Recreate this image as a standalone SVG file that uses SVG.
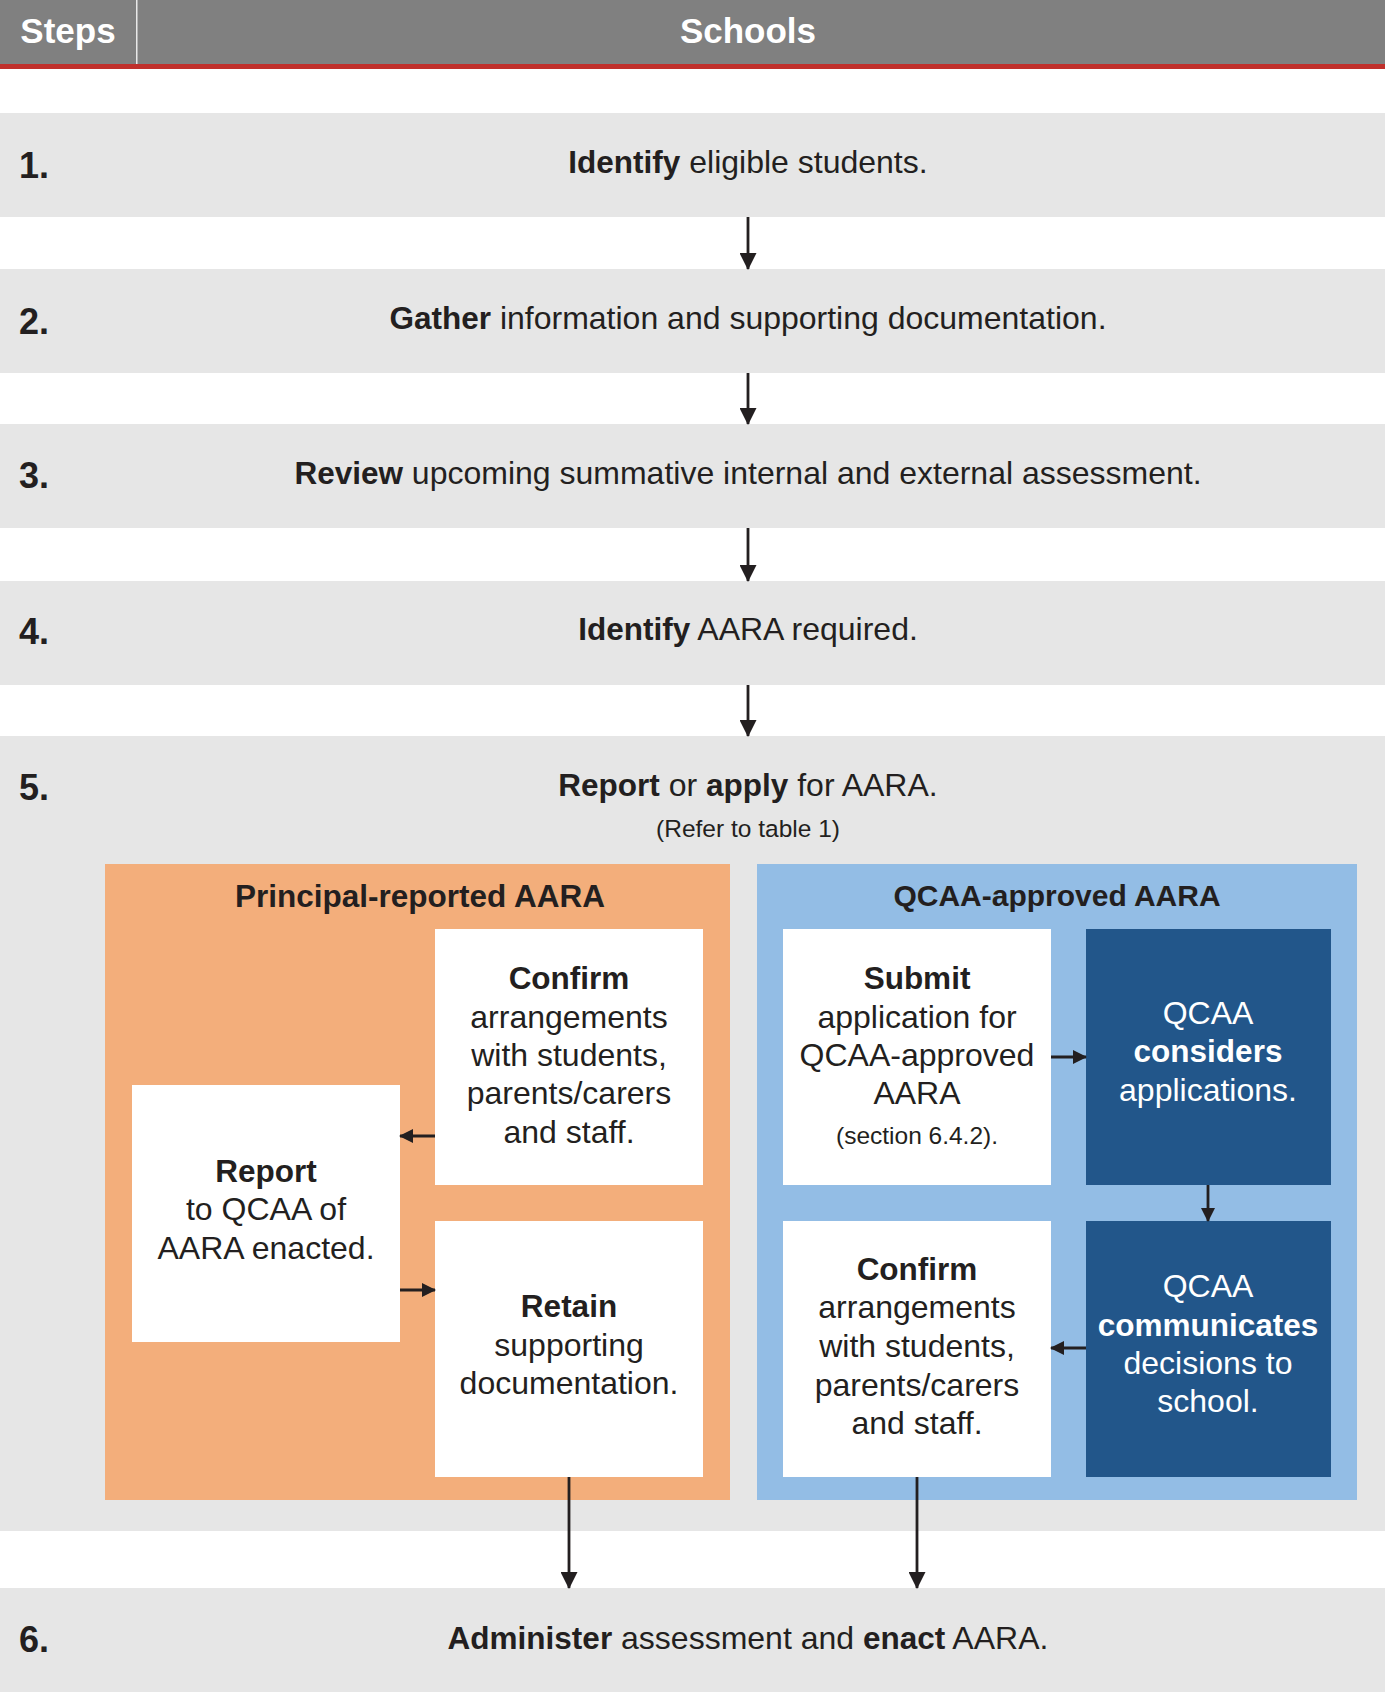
<svg xmlns="http://www.w3.org/2000/svg" width="1385" height="1692" viewBox="0 0 1385 1692">
<defs>
<style>
text{font-family:"Liberation Sans",Arial,sans-serif;fill:#231f20}
.row{fill:#e6e6e6}
.num{font-size:36px;font-weight:bold}
.rt{font-size:32px;text-anchor:middle}
.bt{font-size:32px;text-anchor:middle}
.b{font-weight:bold;font-size:31.5px}
.w{fill:#ffffff}
.ttl{font-size:30px;font-weight:bold;text-anchor:middle}
.sm{font-size:24.5px;text-anchor:middle}
.hd{font-size:35px;font-weight:bold;fill:#ffffff;text-anchor:middle}
.ln{stroke:#231f20;stroke-width:2.8;fill:none}
</style>
<marker id="ah" markerWidth="17" markerHeight="17" refX="16" refY="8.5" orient="auto" markerUnits="userSpaceOnUse">
<path d="M0,0 L17,8.5 L0,17 Z" fill="#231f20"/>
</marker>
<marker id="as" markerWidth="14" markerHeight="14" refX="13" refY="7" orient="auto" markerUnits="userSpaceOnUse">
<path d="M0,0 L14,7 L0,14 Z" fill="#231f20"/>
</marker>
</defs>
<rect width="1385" height="1692" fill="#ffffff"/>
<g id="header">
<rect x="0" y="0" width="1385" height="65" fill="#808080"/>
<rect x="0" y="64" width="1385" height="5" fill="#c0302c"/>
<rect x="136" y="0" width="1.5" height="64" fill="#e8e8e8"/>
<text class="hd" x="68" y="43">Steps</text>
<text class="hd" x="748" y="43">Schools</text>
</g>
<g id="step1">
<rect class="row" x="0" y="113" width="1385" height="104"/>
<text class="num" x="19" y="178">1.</text>
<text class="rt" x="748" y="173"><tspan class="b">Identify</tspan> eligible students.</text>
</g>
<g id="step2">
<rect class="row" x="0" y="269" width="1385" height="104"/>
<text class="num" x="19" y="334">2.</text>
<text class="rt" x="748" y="329"><tspan class="b">Gather</tspan> information and supporting documentation.</text>
</g>
<g id="step3">
<rect class="row" x="0" y="424" width="1385" height="104"/>
<text class="num" x="19" y="488">3.</text>
<text class="rt" x="748" y="484"><tspan class="b">Review</tspan> upcoming summative internal and external assessment.</text>
</g>
<g id="step4">
<rect class="row" x="0" y="581" width="1385" height="104"/>
<text class="num" x="19" y="644">4.</text>
<text class="rt" x="748" y="640"><tspan class="b">Identify</tspan> AARA required.</text>
</g>
<g id="step5">
<rect class="row" x="0" y="736" width="1385" height="795"/>
<text class="num" x="19" y="800">5.</text>
<text class="rt" x="748" y="796"><tspan class="b">Report</tspan> or <tspan class="b">apply</tspan> for AARA.</text>
<text class="sm" x="748" y="837">(Refer to table 1)</text>
</g>
<g id="principal-reported">
<rect x="105" y="864" width="625" height="636" fill="#f3ae7b"/>
<text class="ttl" x="420" y="907" style="font-size:31.5px">Principal-reported AARA</text>
</g>
<g id="qcaa-approved">
<rect x="757" y="864" width="600" height="636" fill="#93bde5"/>
<text class="ttl" x="1057" y="906">QCAA-approved AARA</text>
</g>
<g id="p-confirm">
<rect x="435" y="929" width="268" height="256" fill="#ffffff"/>
<text class="bt" x="569"><tspan class="b" x="569" y="989">Confirm</tspan><tspan x="569" y="1028">arrangements</tspan><tspan x="569" y="1066">with students,</tspan><tspan x="569" y="1104">parents/carers</tspan><tspan x="569" y="1143">and staff.</tspan></text>
</g>
<g id="p-report">
<rect x="132" y="1085" width="268" height="257" fill="#ffffff"/>
<text class="bt" x="266"><tspan class="b" x="266" y="1182">Report</tspan><tspan x="266" y="1220">to QCAA of</tspan><tspan x="266" y="1259">AARA enacted.</tspan></text>
</g>
<g id="p-retain">
<rect x="435" y="1221" width="268" height="256" fill="#ffffff"/>
<text class="bt" x="569"><tspan class="b" x="569" y="1317">Retain</tspan><tspan x="569" y="1356">supporting</tspan><tspan x="569" y="1394">documentation.</tspan></text>
</g>
<g id="q-submit">
<rect x="783" y="929" width="268" height="256" fill="#ffffff"/>
<text class="bt" x="917"><tspan class="b" x="917" y="989">Submit</tspan><tspan x="917" y="1028">application for</tspan><tspan x="917" y="1066">QCAA-approved</tspan><tspan x="917" y="1104">AARA</tspan></text>
<text class="sm" x="917" y="1144">(section 6.4.2).</text>
</g>
<g id="q-considers">
<rect x="1086" y="929" width="245" height="256" fill="#22568a"/>
<text class="bt w" x="1208"><tspan class="w" x="1208" y="1024">QCAA</tspan><tspan class="b w" x="1208" y="1062">considers</tspan><tspan class="w" x="1208" y="1101">applications.</tspan></text>
</g>
<g id="q-communicates">
<rect x="1086" y="1221" width="245" height="256" fill="#22568a"/>
<text class="bt w" x="1208"><tspan class="w" x="1208" y="1297">QCAA</tspan><tspan class="b w" x="1208" y="1336">communicates</tspan><tspan class="w" x="1208" y="1374">decisions to</tspan><tspan class="w" x="1208" y="1412">school.</tspan></text>
</g>
<g id="q-confirm">
<rect x="783" y="1221" width="268" height="256" fill="#ffffff"/>
<text class="bt" x="917"><tspan class="b" x="917" y="1280">Confirm</tspan><tspan x="917" y="1318">arrangements</tspan><tspan x="917" y="1357">with students,</tspan><tspan x="917" y="1396">parents/carers</tspan><tspan x="917" y="1434">and staff.</tspan></text>
</g>
<g id="step6">
<rect class="row" x="0" y="1588" width="1385" height="104"/>
<text class="num" x="19" y="1652">6.</text>
<text class="rt" x="748" y="1649"><tspan class="b">Administer</tspan> assessment and <tspan class="b">enact</tspan> AARA.</text>
</g>
<g id="connectors">
<line class="ln" x1="748" y1="217" x2="748" y2="269" marker-end="url(#ah)"/>
<line class="ln" x1="748" y1="373" x2="748" y2="424" marker-end="url(#ah)"/>
<line class="ln" x1="748" y1="528" x2="748" y2="581" marker-end="url(#ah)"/>
<line class="ln" x1="748" y1="685" x2="748" y2="736" marker-end="url(#ah)"/>
<line class="ln" x1="435" y1="1136" x2="400" y2="1136" marker-end="url(#as)"/>
<line class="ln" x1="400" y1="1290" x2="435" y2="1290" marker-end="url(#as)"/>
<line class="ln" x1="1051" y1="1057" x2="1086" y2="1057" marker-end="url(#as)"/>
<line class="ln" x1="1208" y1="1185" x2="1208" y2="1221" marker-end="url(#as)"/>
<line class="ln" x1="1086" y1="1348" x2="1051" y2="1348" marker-end="url(#as)"/>
<line class="ln" x1="569" y1="1477" x2="569" y2="1588" marker-end="url(#ah)"/>
<line class="ln" x1="917" y1="1477" x2="917" y2="1588" marker-end="url(#ah)"/>
</g>
</svg>
